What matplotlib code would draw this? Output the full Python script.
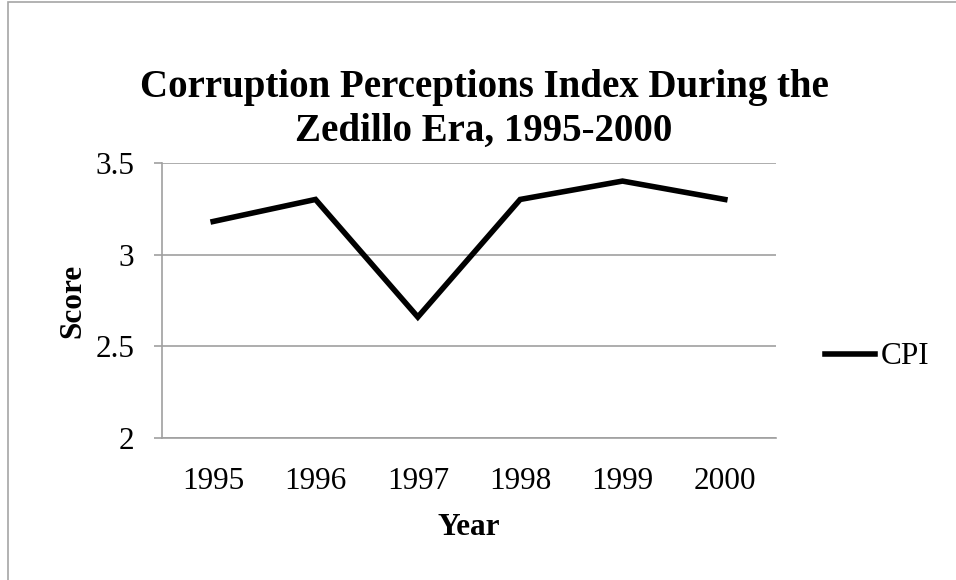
import matplotlib.pyplot as plt
from matplotlib.patches import Rectangle

# data
years = ['1995', '1996', '1997', '1998', '1999', '2000']
cpi = [3.18, 3.30, 2.66, 3.30, 3.40, 3.30]

plt.rcParams['font.family'] = ['Liberation Serif', 'DejaVu Serif']

fig = plt.figure(figsize=(9.56, 5.8), dpi=100)
W, H = 956, 580

# outer chart border
fig.patches.append(Rectangle((8 / W, -0.01), 1.2, 1 - 2 / H + 0.01, transform=fig.transFigure,
                             fill=False, edgecolor='#a6a6a6', lw=1.2))

ax = fig.add_axes([162 / W, 1 - 438.3 / H, 614 / W, 275.6 / H])
x = range(len(years))
ax.plot(x, cpi, color='black', lw=4, label='CPI', solid_joinstyle='miter')

ax.set_xlim(-0.5, len(years) - 0.5)
ax.set_ylim(2, 3.5)
ax.set_yticks([2, 2.5, 3, 3.5])
ax.set_yticklabels(['2', '2.5', '3', '3.5'])
ax.set_xticks(list(x))
ax.set_xticklabels(years)

ax.grid(axis='y', color='#a0a0a0', lw=1.2)
ax.set_axisbelow(True)
for s in ['top', 'right']:
    ax.spines[s].set_visible(False)
for s in ['left', 'bottom']:
    ax.spines[s].set_color('#a0a0a0')
    ax.spines[s].set_linewidth(1.2)

ax.tick_params(axis='y', length=6, width=1.2, color='#a0a0a0', pad=14, labelsize=22.5)
ax.tick_params(axis='x', length=0, pad=21, labelsize=22.5)

ax.set_ylabel('Score', fontsize=22.5, fontweight='bold', labelpad=6)
ax.set_xlabel('Year', fontsize=22.5, fontweight='bold', labelpad=12)

fig.text(484 / W, 1 - 109 / H, 'Corruption Perceptions Index During the\nZedillo Era, 1995-2000',
         ha='center', va='center', fontsize=28, fontweight='bold', linespacing=1.25)

ax.legend(loc='center left', bbox_to_anchor=(825 / W, 1 - 357 / H), bbox_transform=fig.transFigure,
          frameon=False, fontsize=22.5, handlelength=1.6, handletextpad=0.2, borderpad=0, borderaxespad=0)

fig.savefig('out.png', dpi=100)
